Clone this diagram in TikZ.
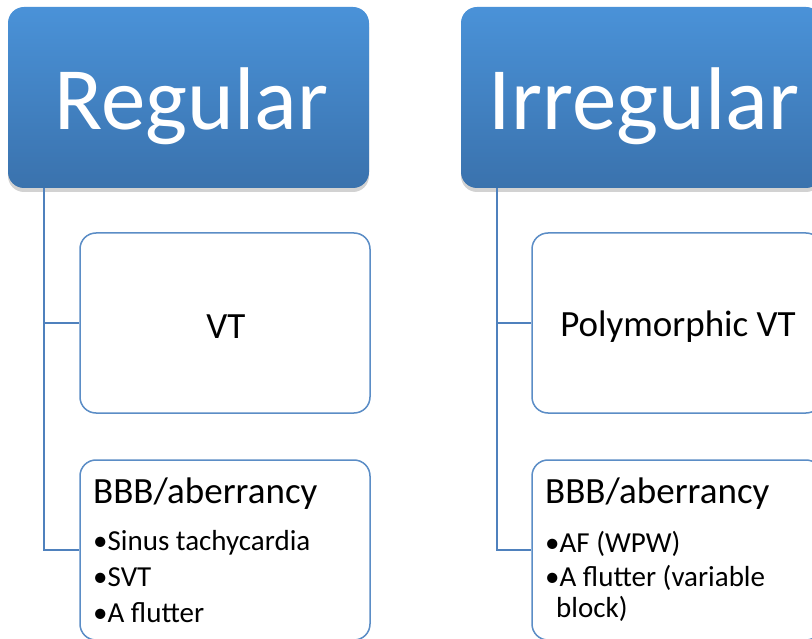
\documentclass[tikz,border=0pt]{standalone}
\usepackage{fontspec}
\setmainfont{Carlito}
\usetikzlibrary{shadows}
\definecolor{hdtop}{HTML}{4A92D8}
\definecolor{hdbot}{HTML}{3A72AD}
\definecolor{edge}{HTML}{5B8DC6}
\definecolor{conn}{HTML}{4F81BD}
\tikzset{
  hdr/.style={rounded corners=16pt, top color=hdtop, bottom color=hdbot, draw=none,
    minimum width=361pt, minimum height=181pt, inner sep=0pt,
    drop shadow={opacity=0.35, shadow xshift=0pt, shadow yshift=-4pt}},
  hdrtext/.style={text=white, font=\fontsize{89}{107}\selectfont, inner sep=0pt, anchor=base},
  child/.style={rounded corners=16pt, draw=edge, line width=1.5pt, fill=white,
    minimum width=290pt, minimum height=180pt, inner sep=0pt},
  big/.style={font=\fontsize{37}{44}\selectfont, inner sep=0pt},
  item/.style={font=\fontsize{29}{35}\selectfont, inner sep=0pt, anchor=base west},
  link/.style={draw=conn, line width=1.5pt}
}
\begin{document}
\begin{tikzpicture}[x=1pt,y=-1pt]
\useasboundingbox (0,0) rectangle (812,639);
\clip (0,0) rectangle (812,639);
\fill[white] (0,0) rectangle (812,639);
% headers
\node[hdr] (reg) at (188.5,97.5) {};
\node[hdrtext] (regt) at (191.5,130) {Regular};
\node[hdr] (irr) at (641.5,97.5) {};
\node[hdrtext] (irrt) at (644,130) {Irregular};
% trunks
\coordinate (rtrunk) at (44,188);
\coordinate (itrunk) at (497,188);
% left children
\node[child] (vt) at (225,323) {};
\node[big, anchor=base] (vtt) at (226,338) {VT};
\node[child] (bbl) at (225,550) {};
\node[big, anchor=base west] (bblh) at (93,503) {BBB/aberrancy};
\node[item] (b1) at (93,550) {•Sinus tachycardia};
\node[item] (b2) at (93,586) {•SVT};
\node[item] (b3) at (93,622) {•A flutter};
% right children
\node[child] (pvt) at (677,323) {};
\node[big, anchor=base] (pvtt) at (678,337) {Polymorphic VT};
\node[child] (bbr) at (677,550) {};
\node[big, anchor=base west] (bbrh) at (545,503) {BBB/aberrancy};
\node[item] (c1) at (545,552) {•AF (WPW)};
\node[item] (c2) at (545,586) {•A flutter (variable};
\node[item] (c3) at (556,617) {block)};
% connectors
\draw[link] (rtrunk) |- (vt.west);
\draw[link] (rtrunk) |- (bbl.west);
\draw[link] (itrunk) |- (pvt.west);
\draw[link] (itrunk) |- (bbr.west);
\end{tikzpicture}
\end{document}
